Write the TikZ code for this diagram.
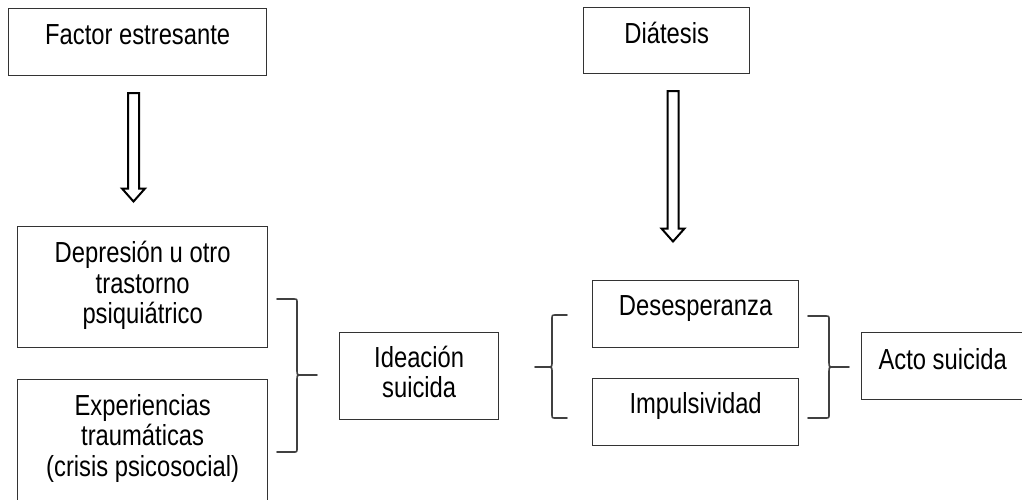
\documentclass[tikz,border=0pt]{standalone}
\usepackage{fontspec}
\setmainfont[FakeStretch=0.82]{Liberation Sans}
\usetikzlibrary{calc}

% centred lines whose baseline is the baseline of the first line
\newcommand\boxlines[1]{\begin{tabular}[t]{@{}c@{}}#1\end{tabular}}

% curly brace: end x, spine x, tip x, top y, middle y, bottom y
\newcommand\curlybrace[6]{%
  \pgfmathsetmacro\bd{ifthenelse(#2>#1,1,-1)}%
  \draw[bracestroke] (#1,#4) -- ({#2-4*\bd},#4) .. controls (#2,#4) .. (#2,{#4+4})
    -- (#2,{#5-5}) .. controls (#2,#5) .. ({#2+5*\bd},#5) -- (#3,#5);
  \draw[bracestroke] ({#2+5*\bd},#5) .. controls (#2,#5) .. (#2,{#5+5})
    -- (#2,{#6-4}) .. controls (#2,#6) .. ({#2-4*\bd},#6) -- (#1,#6);
}

% hollow block arrow from a top coordinate to a tip coordinate
\newcommand\hollowarrow[2]{%
  \draw[hollow] ($(#1)+(-5.5,0)$) -- ($(#1)+(5.5,0)$) -- ($(#2)+(5.5,-13)$)
    -- ($(#2)+(11.5,-13)$) -- (#2) -- ($(#2)+(-11.5,-13)$)
    -- ($(#2)+(-5.5,-13)$) -- cycle;
}

\begin{document}
\begin{tikzpicture}[x=1pt,y=-1pt,
  box/.style={draw=black!80, line width=1.3pt, inner sep=0pt, anchor=north west},
  boxtext/.style={anchor=base, inner sep=0pt, text=black,
    font=\fontsize{29}{30.5}\selectfont},
  hollow/.style={draw=black, line width=2pt, fill=white, line join=miter},
  bracestroke/.style={draw=black!75, line width=1.6pt, line cap=round}]

\useasboundingbox (0,0) rectangle (1022,499);
\clip (0,0) rectangle (1022,499);

% boxes
\node[box, minimum width=258pt, minimum height=67pt] (factor) at (8,8) {};
\node[box, minimum width=166pt, minimum height=66pt] (diatesis) at (583,7) {};
\node[box, minimum width=250pt, minimum height=121pt] (depresion) at (17,226) {};
\node[box, minimum width=250pt, minimum height=140pt] (experiencias) at (17,379) {};
\node[box, minimum width=159pt, minimum height=87pt] (ideacion) at (339,332) {};
\node[box, minimum width=206pt, minimum height=67pt] (desesperanza) at (592,280) {};
\node[box, minimum width=206pt, minimum height=67pt] (impulsividad) at (592,378) {};
\node[box, minimum width=164pt, minimum height=67pt] (acto) at (861,332) {};

% texts
\node[boxtext] (t-factor) at ($(factor.north)+(0,36.5)$) {Factor estresante};
\node[boxtext] (t-diatesis) at ($(diatesis.north)+(0,36.5)$) {Diátesis};
\node[boxtext] (t-depresion) at ($(depresion.north)+(0,36.5)$)
  {\boxlines{Depresión u otro\\trastorno\\psiquiátrico}};
\node[boxtext] (t-experiencias) at ($(experiencias.north)+(0,36)$)
  {\boxlines{Experiencias\\traumáticas\\(crisis psicosocial)}};
\node[boxtext] (t-ideacion) at ($(ideacion.north)+(0,35)$)
  {\boxlines{Ideación\\suicida}};
\node[boxtext] (t-desesperanza) at ($(desesperanza.north)+(0,35)$) {Desesperanza};
\node[boxtext] (t-impulsividad) at ($(impulsividad.north)+(0,35.5)$) {Impulsividad};
\node[boxtext] (t-acto) at ($(acto.north)+(-1,37)$) {Acto suicida};

% hollow arrows
\coordinate (a1top) at (133.5,93);
\coordinate (a1tip) at (133.5,201.5);
\coordinate (a2top) at (673,91);
\coordinate (a2tip) at (673,241.5);
\hollowarrow{a1top}{a1tip}
\hollowarrow{a2top}{a2tip}

% braces
\curlybrace{277}{297}{317}{299}{375}{452}
\curlybrace{567}{552}{535}{315}{367}{418}
\curlybrace{808}{829}{849}{316}{367}{418}

\end{tikzpicture}
\end{document}
